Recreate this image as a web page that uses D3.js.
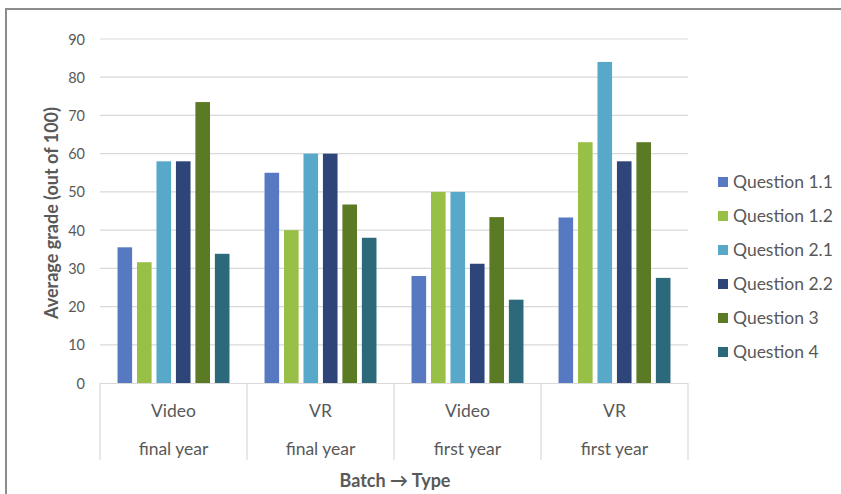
<!DOCTYPE html>
<html><head><meta charset="utf-8">
<script src="https://cdn.jsdelivr.net/npm/d3@7"></script>
<style>
body{margin:0;background:#fff;}
text{font-family:Lato, "Open Sans", sans-serif;}
</style></head>
<body><svg id="c" width="841" height="494"></svg>
<script>
const types = ["Video","VR","Video","VR"];
const batches = ["final year","final year","first year","first year"];
const seriesNames = ["Question 1.1","Question 1.2","Question 2.1","Question 2.2","Question 3","Question 4"];
const q11 = [35.5, 55, 28, 43.3];
const q12 = [31.6, 40, 50, 63];
const q21 = [58, 60, 50, 84];
const q22 = [58, 60, 31.2, 58];
const q3  = [73.5, 46.7, 43.4, 63];
const q4  = [33.8, 38, 21.8, 27.5];
const yTicks = [0,10,20,30,40,50,60,70,80,90];
const colors = ["#5779c1","#98c046","#58a9c9","#2e4579","#5b7a24","#2c6a7b"];

(function(){
const series = [q11,q12,q21,q22,q3,q4];
const svg = d3.select("#c");
const W=841,H=494;
svg.append("rect").attr("x",6).attr("y",9).attr("width",W).attr("height",H).attr("fill","#fff").attr("stroke","#8c8c8c").attr("stroke-width",2);

const pL=100,pR=688,pT=39,pB=383;
const idx = d3.range(types.length);
const x0 = d3.scaleBand().domain(idx).range([pL,pR]).paddingInner(0).paddingOuter(0);
const x1 = d3.scaleBand().domain(d3.range(series.length)).range([0,x0.bandwidth()]).paddingInner(0.25).paddingOuter(0.9);
const y = d3.scaleLinear().domain([0,90]).range([pB,pT]);

svg.append("g").selectAll("line").data(yTicks.slice(1)).join("line")
  .attr("x1",pL).attr("x2",pR).attr("y1",d=>y(d)).attr("y2",d=>y(d))
  .attr("stroke","#d9d9d9").attr("stroke-width",1.2);

const yAxis = d3.axisLeft(y).tickValues(yTicks).tickSize(0).tickPadding(0);
const ya = svg.append("g").attr("transform",`translate(${pL-15},0)`).call(yAxis);
ya.select(".domain").remove();
ya.selectAll("text").attr("fill","#595959").style("font-size","14.5px").style("font-family","Lato, sans-serif").attr("dy","0.35em");

const g = svg.append("g");
series.forEach((s,si)=>{
  g.selectAll(null).data(s).join("rect")
    .attr("x",(d,i)=>x0(i)+x1(si))
    .attr("width",x1.bandwidth())
    .attr("y",d=>y(d))
    .attr("height",d=>y(0)-y(d))
    .attr("fill",colors[si]);
});

svg.append("line").attr("x1",pL).attr("x2",pR).attr("y1",pB+0.5).attr("y2",pB+0.5).attr("stroke","#d9d9d9").attr("stroke-width",1.2);
const seps = idx.map(i=>x0(i)).concat([pR]);
svg.append("g").selectAll("line").data(seps).join("line")
  .attr("x1",d=>d).attr("x2",d=>d).attr("y1",pB).attr("y2",460)
  .attr("stroke","#d9d9d9").attr("stroke-width",1.2);

const xa = svg.append("g");
xa.selectAll(null).data(types).join("text")
  .attr("x",(d,i)=>x0(i)+x0.bandwidth()/2).attr("y",417)
  .attr("text-anchor","middle").attr("fill","#595959").style("font-size","17.5px").text(d=>d);
xa.selectAll(null).data(batches).join("text")
  .attr("x",(d,i)=>x0(i)+x0.bandwidth()/2).attr("y",455)
  .attr("text-anchor","middle").attr("fill","#595959").style("font-size","17.5px").text(d=>d);

svg.append("text").attr("x",395).attr("y",487).attr("text-anchor","middle")
  .attr("fill","#595959").style("font-size","18px").style("font-weight","bold").text("Batch \u2192 Type");
svg.append("text").attr("transform","translate(58,213) rotate(-90)").attr("text-anchor","middle")
  .attr("fill","#595959").style("font-size","18px").style("font-weight","bold").text("Average grade (out of 100)");

const lg = svg.append("g");
seriesNames.forEach((n,i)=>{
  const yy = 182 + i*34;
  lg.append("rect").attr("x",718).attr("y",yy-5).attr("width",10).attr("height",10).attr("fill",colors[i]);
  lg.append("text").attr("x",733).attr("y",yy).attr("dy","0.35em").attr("fill","#595959").style("font-size","17.5px").text(n);
});
})();
</script></body></html>
